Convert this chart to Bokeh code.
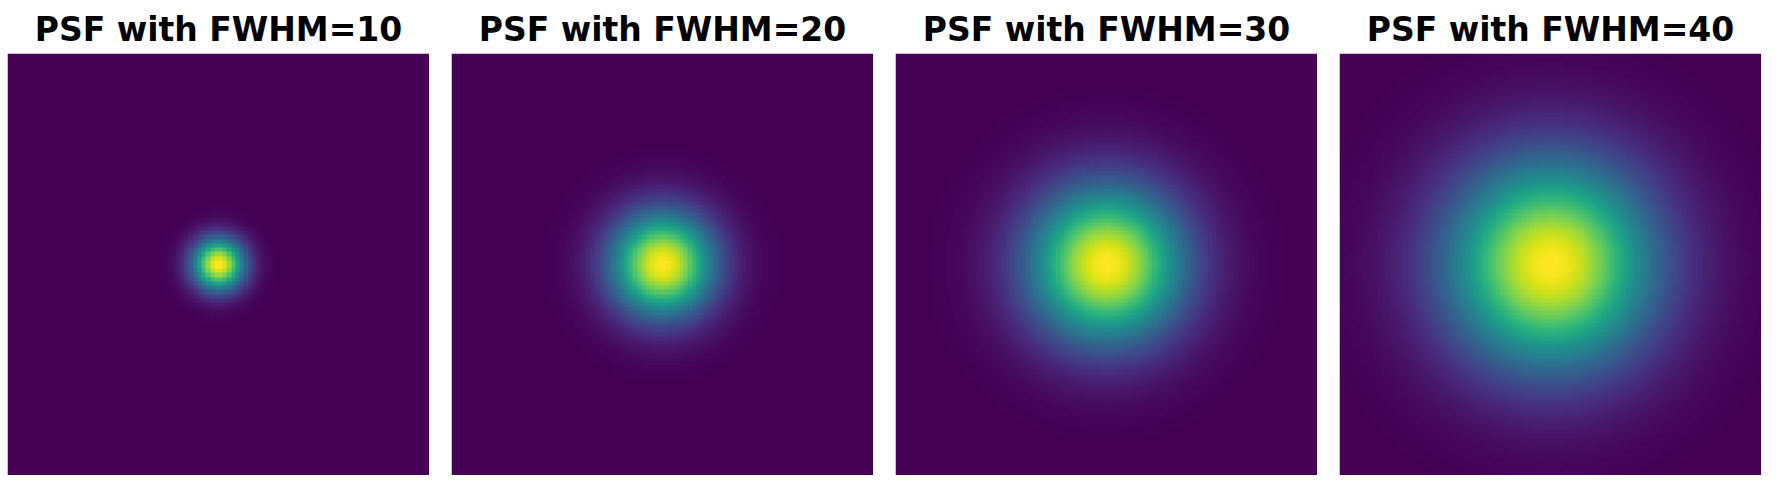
import numpy as np
from bokeh.plotting import figure
from bokeh.layouts import row
from bokeh.models import Range1d, LinearColorMapper
from bokeh.palettes import Viridis256
from bokeh.embed import file_html
from bokeh.resources import INLINE

# Data
fwhm_values = [10, 20, 30, 40]
titles = ["PSF with FWHM=10", "PSF with FWHM=20", "PSF with FWHM=30", "PSF with FWHM=40"]
grid_size = 100


def psf(fwhm, n):
    sigma = fwhm / (2.0 * np.sqrt(2.0 * np.log(2.0)))
    c = (n - 1) / 2.0
    y, x = np.mgrid[0:n, 0:n]
    g = np.exp(-((x - c) ** 2 + (y - c) ** 2) / (2.0 * sigma ** 2))
    return g / g.sum()


figs = []
for fw, t in zip(fwhm_values, titles):
    p = figure(frame_width=422, frame_height=422, output_backend="svg", toolbar_location=None,
               x_range=Range1d(0, grid_size), y_range=Range1d(0, grid_size),
               x_axis_location=None, y_axis_location=None,
               min_border_left=0, min_border_right=0, min_border_top=0,
               min_border_bottom=0, title=t)
    p.title.text_font = "DejaVu Sans"
    p.title.text_font_style = "bold"
    p.title.text_font_size = "33px"
    p.title.align = "center"
    p.title.text_color = "black"
    p.grid.visible = False
    p.outline_line_color = None
    img = psf(fw, grid_size)
    mapper = LinearColorMapper(palette=Viridis256, low=float(img.min()), high=float(img.max()))
    p.image(image=[img], x=0, y=0, dw=grid_size, dh=grid_size, color_mapper=mapper)
    figs.append(p)

layout = row(*figs, spacing=22)
layout.styles = {"margin-left": "7px", "margin-top": "2px"}
open("out.html", "w").write(file_html(layout, INLINE))
